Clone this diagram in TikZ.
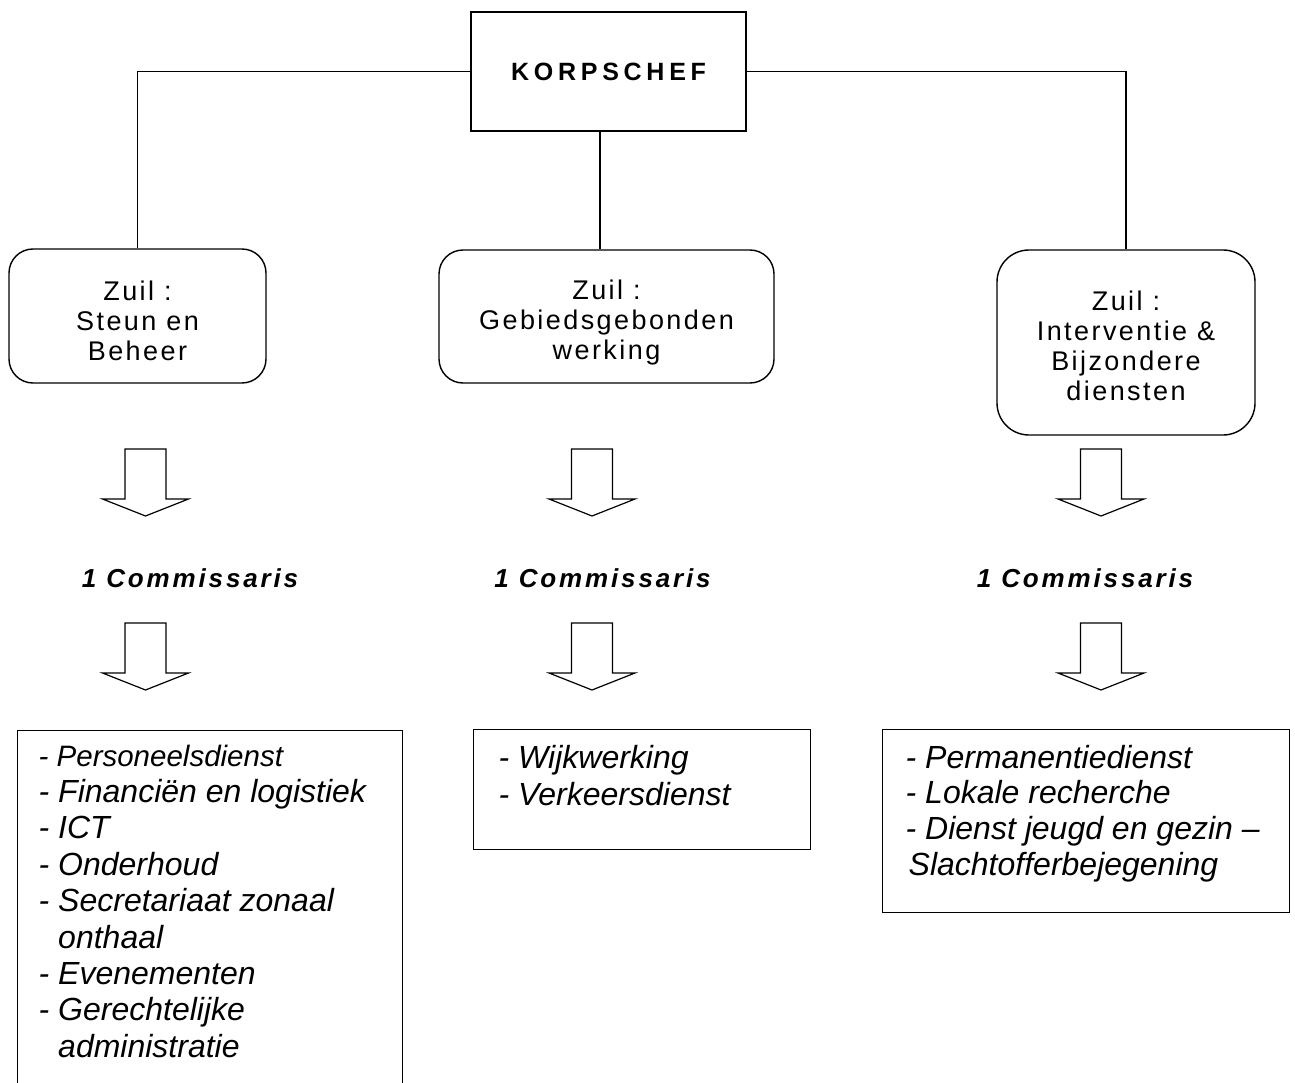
\documentclass[tikz,border=0pt]{standalone}
\usepackage{fontspec}
\setmainfont{Liberation Sans}
\newfontfamily\zuilfont[LetterSpace=9]{Liberation Sans}
\newfontfamily\chieffont[LetterSpace=19]{Liberation Sans}
\newfontfamily\commfont[LetterSpace=11]{Liberation Sans}
\begin{document}
\begin{tikzpicture}[x=1pt,y=-1pt,line width=1.4pt,
  chefbox/.style={draw, minimum width=275pt, minimum height=119pt, inner sep=0pt,
    font={\chieffont\bfseries\fontsize{25pt}{29pt}\selectfont}},
  zuilbox/.style={draw, rounded corners=24pt, inner sep=0pt},
  zuiltext/.style={anchor=base, inner sep=0pt,
    font={\zuilfont\fontsize{27pt}{30pt}\selectfont}},
  listbox/.style={draw, inner sep=0pt, anchor=north west},
  listtext/.style={anchor=base west, inner sep=0pt,
    font={\itshape\fontsize{32pt}{36pt}\selectfont}},
  commtext/.style={inner sep=0pt,
    font={\commfont\bfseries\itshape\fontsize{26pt}{30pt}\selectfont}},
  hollow/.pic={\draw[line width=1.2pt, line join=miter]
    (-20.5,0) -- (20.5,0) -- (20.5,50) -- (43,50) -- (0,67) -- (-43,50) -- (-20.5,50) -- cycle;}
]
\useasboundingbox (0,0) rectangle (1295,1083);

% top box
\node[chefbox] (chef) at (608.5,71.5) {KORPSCHEF};

% pillars
\node[zuilbox, minimum width=257pt, minimum height=134pt] (z1) at (137.5,316) {};
\node[zuilbox, minimum width=335pt, minimum height=133pt] (z2) at (606.5,316.5) {};
\node[zuilbox, minimum width=258pt, minimum height=185pt, rounded corners=32pt] (z3) at (1126,342.5) {};

\foreach \l [count=\i] in {Zuil :, Steun en, Beheer}
  \path (z1.center) ++(0,{-16+30*(\i-1)}) node[zuiltext] (z1t\i) {\l};
\foreach \l [count=\i] in {Zuil :, Gebiedsgebonden, werking}
  \path (z2.center) ++(0,{-17.5+30*(\i-1)}) node[zuiltext] (z2t\i) {\l};
\foreach \l [count=\i] in {Zuil :, Interventie \&, Bijzondere, diensten}
  \path (z3.center) ++(0,{-32.5+30*(\i-1)}) node[zuiltext] (z3t\i) {\l};

% connectors
\draw (chef.west) -| (z1.north);
\draw (chef.east) -| (z3.north);
\draw ([xshift=-8.5pt]chef.south) -- ([xshift=-8.5pt]chef.south |- z2.north);

% hollow arrows
\pic at (145.5,449) {hollow};
\pic at (145.5,623) {hollow};
\pic at (592,449) {hollow};
\pic at (592,623) {hollow};
\pic at (1101,449) {hollow};
\pic at (1101,623) {hollow};

% commissaris labels
\node[commtext] (c1) at (190,578) {1 Commissaris};
\node[commtext] (c2) at (602.5,578) {1 Commissaris};
\node[commtext] (c3) at (1085,578) {1 Commissaris};

% list boxes
\node[listbox, minimum width=385pt, minimum height=380pt] (la) at (17,730) {};
\node[listbox, minimum width=337pt, minimum height=120pt] (lb) at (473,729) {};
\node[listbox, minimum width=407pt, minimum height=183pt] (lc) at (882,729) {};

% list A
\node[listtext, font={\itshape\fontsize{29.5pt}{34pt}\selectfont}] (a0) at (38,766) {- Personeelsdienst};
\foreach \t [count=\i] in {- Financiën en logistiek, - ICT, - Onderhoud, - Secretariaat zonaal, {\phantom{- }onthaal}, - Evenementen, - Gerechtelijke, {\phantom{- }administratie}}
  \node[listtext] (a\i) at (38,{766+36.4*\i}) {\t};

% list B
\node[listtext] (b1) at (498,768) {- Wijkwerking};
\node[listtext] (b2) at (498,805) {- Verkeersdienst};

% list C
\node[listtext] (k1) at (905,768) {- Permanentiedienst};
\node[listtext] (k2) at (905,803.5) {- Lokale recherche};
\node[listtext] (k3) at (905,839) {- Dienst jeugd en gezin –};
\node[listtext] (k4) at (905,875) {\kern3pt Slachtofferbejegening};
\end{tikzpicture}
\end{document}
